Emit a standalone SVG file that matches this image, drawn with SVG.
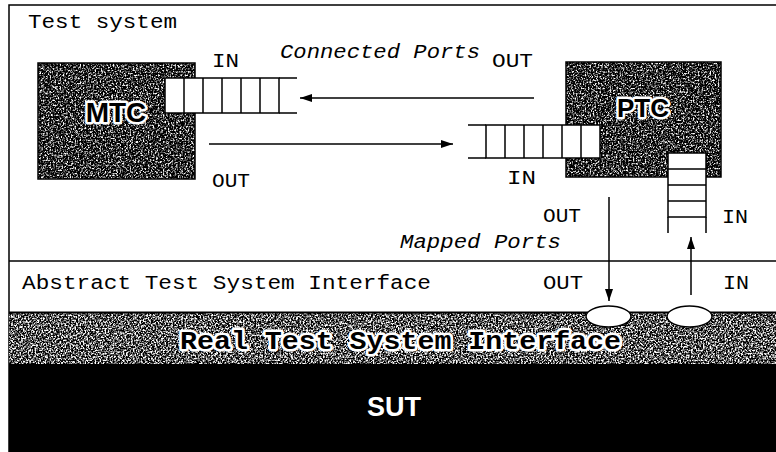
<svg xmlns="http://www.w3.org/2000/svg" width="776" height="452" viewBox="0 0 776 452">
<style>
.lbl{font-family:"Liberation Mono","Courier New",monospace;font-size:20px;fill:#000}
.it{font-style:italic}
.ln{stroke:#000;stroke-width:1.5;fill:none}
.q{fill:#fff;stroke:#000;stroke-width:1.5}
.comp{font-family:"Liberation Sans",Arial,sans-serif;font-weight:bold;fill:#000;stroke:#fff;stroke-width:5;paint-order:stroke;stroke-linejoin:round}
</style>
<defs>
<filter id="dark" x="0" y="0" width="100%" height="100%" color-interpolation-filters="sRGB">
<feTurbulence type="fractalNoise" baseFrequency="0.6" numOctaves="3" seed="4" result="n"/>
<feColorMatrix in="n" type="matrix" values="1 0 0 0 0 1 0 0 0 0 1 0 0 0 0 0 0 0 0 1" result="g"/>
<feComponentTransfer in="g" result="c">
<feFuncR type="linear" slope="3.5" intercept="-1.6"/>
<feFuncG type="linear" slope="3.5" intercept="-1.6"/>
<feFuncB type="linear" slope="3.5" intercept="-1.6"/>
</feComponentTransfer>
<feComposite in="c" in2="SourceGraphic" operator="in"/>
</filter>
<filter id="mid" x="0" y="0" width="100%" height="100%" color-interpolation-filters="sRGB">
<feTurbulence type="fractalNoise" baseFrequency="0.6" numOctaves="3" seed="9" result="n"/>
<feColorMatrix in="n" type="matrix" values="1 0 0 0 0 1 0 0 0 0 1 0 0 0 0 0 0 0 0 1" result="g"/>
<feComponentTransfer in="g" result="c">
<feFuncR type="linear" slope="3.5" intercept="-1.4"/>
<feFuncG type="linear" slope="3.5" intercept="-1.4"/>
<feFuncB type="linear" slope="3.5" intercept="-1.4"/>
</feComponentTransfer>
<feComposite in="c" in2="SourceGraphic" operator="in"/>
</filter>
<marker id="ah" viewBox="0 0 12 8" refX="12" refY="4" markerWidth="12" markerHeight="8" markerUnits="userSpaceOnUse" orient="auto">
<path d="M0,0 L12,4 L0,8 Z" fill="#000"/>
</marker>
</defs>
<rect x="0" y="0" width="776" height="452" fill="#fff"/>

<g id="test-system">
<path class="ln" d="M9,452 V5 H776"/>
<text class="lbl" x="28" y="28" textLength="149" lengthAdjust="spacingAndGlyphs">Test system</text>
</g>

<g id="MTC">
<rect x="38" y="63" width="157" height="116" fill="#000" filter="url(#dark)"/>
<rect x="38" y="63" width="157" height="116" class="ln"/>
<text class="comp" x="116" y="122" font-size="28" text-anchor="middle">MTC</text>
</g>

<g id="MTC-IN-queue">
<rect class="q" x="165" y="78" width="114" height="35"/>
<path class="ln" d="M184,78V113M203,78V113M222,78V113M241,78V113M260,78V113M279,78H297M279,113H297"/>
<text class="lbl" x="212" y="67" textLength="27" lengthAdjust="spacingAndGlyphs">IN</text>
<text class="lbl" x="212" y="187" textLength="38" lengthAdjust="spacingAndGlyphs">OUT</text>
</g>

<g id="PTC">
<rect x="566" y="62" width="155" height="115" fill="#000" filter="url(#dark)"/>
<rect x="566" y="62" width="155" height="115" class="ln"/>
<text class="comp" x="643" y="117" font-size="26" text-anchor="middle">PTC</text>
</g>

<g id="PTC-IN-queue">
<rect class="q" x="486" y="125" width="114" height="33"/>
<path class="ln" d="M505,125V158M524,125V158M543,125V158M562,125V158M581,125V158M486,125H468M486,158H468"/>
<text class="lbl" x="492" y="67" textLength="41" lengthAdjust="spacingAndGlyphs">OUT</text>
<text class="lbl" x="507" y="184" textLength="29" lengthAdjust="spacingAndGlyphs">IN</text>
</g>

<g id="PTC-mapped-queue">
<rect class="q" x="668" y="153" width="38" height="64"/>
<path class="ln" d="M668,169H706M668,185H706M668,201H706M668,217V233M706,217V233"/>
<text class="lbl" x="543" y="222" textLength="38" lengthAdjust="spacingAndGlyphs">OUT</text>
<text class="lbl" x="722" y="223" textLength="26" lengthAdjust="spacingAndGlyphs">IN</text>
</g>

<g id="ATSI">
<path class="ln" d="M9,261H776"/>
<text class="lbl" x="22" y="289" textLength="409" lengthAdjust="spacingAndGlyphs">Abstract Test System Interface</text>
<text class="lbl" x="543" y="289" textLength="40" lengthAdjust="spacingAndGlyphs">OUT</text>
<text class="lbl" x="723" y="289" textLength="26" lengthAdjust="spacingAndGlyphs">IN</text>
</g>

<g id="RTSI">
<rect x="9" y="312" width="767" height="52" fill="#000" filter="url(#mid)"/>
<path d="M9,312.5H776" stroke="#000" stroke-width="2"/>
<text x="180" y="349" font-family="'Liberation Mono','Courier New',monospace" font-weight="bold" font-size="26" fill="#000" stroke="#fff" stroke-width="5" paint-order="stroke" stroke-linejoin="round" textLength="441" lengthAdjust="spacingAndGlyphs">Real Test System Interface</text>
<ellipse cx="608.5" cy="316.5" rx="22.5" ry="10.5" class="q"/>
<ellipse cx="689.5" cy="316.5" rx="22.5" ry="10.5" class="q"/>
</g>

<g id="SUT">
<rect x="9" y="364" width="767" height="88" fill="#000"/>
<text x="394" y="416" font-family="'Liberation Sans',Arial,sans-serif" font-weight="bold" font-size="27" fill="#fff" text-anchor="middle">SUT</text>
</g>

<g id="connectors">
<line class="ln" x1="534" y1="98" x2="300" y2="98" marker-end="url(#ah)"/>
<line class="ln" x1="209" y1="144" x2="453" y2="144" marker-end="url(#ah)"/>
<line class="ln" x1="609" y1="197" x2="609" y2="301" marker-end="url(#ah)"/>
<line class="ln" x1="691" y1="295" x2="691" y2="237" marker-end="url(#ah)"/>
<text class="lbl it" x="280" y="58" textLength="200" lengthAdjust="spacingAndGlyphs">Connected Ports</text>
<text class="lbl it" x="400" y="248" textLength="161" lengthAdjust="spacingAndGlyphs">Mapped Ports</text>
</g>
</svg>
